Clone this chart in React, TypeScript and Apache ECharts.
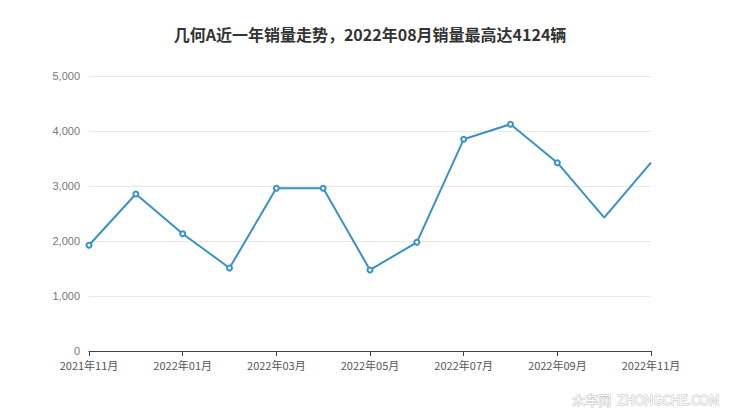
import React, { useEffect, useRef } from "react";
import * as echarts from "echarts";

const categories = [
  "2021年11月", "2021年12月", "2022年01月", "2022年02月", "2022年03月", "2022年04月",
  "2022年05月", "2022年06月", "2022年07月", "2022年08月", "2022年09月", "2022年10月", "2022年11月",
];
const sales = [1922, 2855, 2133, 1509, 2958, 2958, 1473, 1976, 3849, 4124, 3424, 2424, 3424];
const hiddenSymbolIndexes = [11, 12];
const titleText = "几何A近一年销量走势，2022年08月销量最高达4124辆";

export default function App() {
  const ref = useRef<HTMLDivElement>(null);
  useEffect(() => {
    if (!ref.current) return;
    const chart = echarts.init(ref.current, null, { renderer: "svg" });
    chart.setOption({
      animation: false,
      title: {
        text: titleText,
        left: "center",
        top: 21,
        textStyle: { fontSize: 16, fontWeight: "bold", color: "#333", fontFamily: "Noto Sans CJK SC" },
      },
      grid: { left: 89, right: 89, top: 76, bottom: 66 },
      xAxis: {
        type: "category",
        data: categories,
        boundaryGap: false,
        axisLine: { lineStyle: { color: "#444" } },
        axisTick: { interval: 1, lineStyle: { color: "#444" } },
        axisLabel: { interval: 1, color: "#555", fontSize: 11, margin: 8, fontFamily: "Noto Sans CJK SC" },
      },
      yAxis: {
        type: "value",
        min: 0,
        max: 5000,
        interval: 1000,
        axisLine: { show: false },
        axisTick: { show: false },
        axisLabel: { color: "#777", fontSize: 11, margin: 9, fontFamily: "Liberation Sans", lineHeight: 11 },
        splitLine: { lineStyle: { color: "#e8e8e8" } },
      },
      graphic: [
        {
          type: "text",
          right: 20,
          bottom: 11,
          style: {
            text: "众车网  ZHONGCHE.COM",
            fill: "#fff",
            fontSize: 13,
            fontFamily: "Noto Sans CJK SC",
            stroke: "#c0c0c0",
            lineWidth: 1,
          },
        },
      ],
      series: [
        {
          type: "line",
          data: sales.map((v, i) =>
            hiddenSymbolIndexes.includes(i) ? { value: v, symbol: "none" } : v
          ),
          symbol: "emptyCircle",
          symbolSize: 5,
          lineStyle: { color: "#3a92c4", width: 2 },
          itemStyle: { color: "#3a92c4", borderWidth: 1.5 },
        },
      ],
    });
    return () => chart.dispose();
  }, []);
  return (
    <div
      ref={ref}
      style={{ position: "absolute", left: 0, top: 0, width: 740, height: 417 }}
    />
  );
}
